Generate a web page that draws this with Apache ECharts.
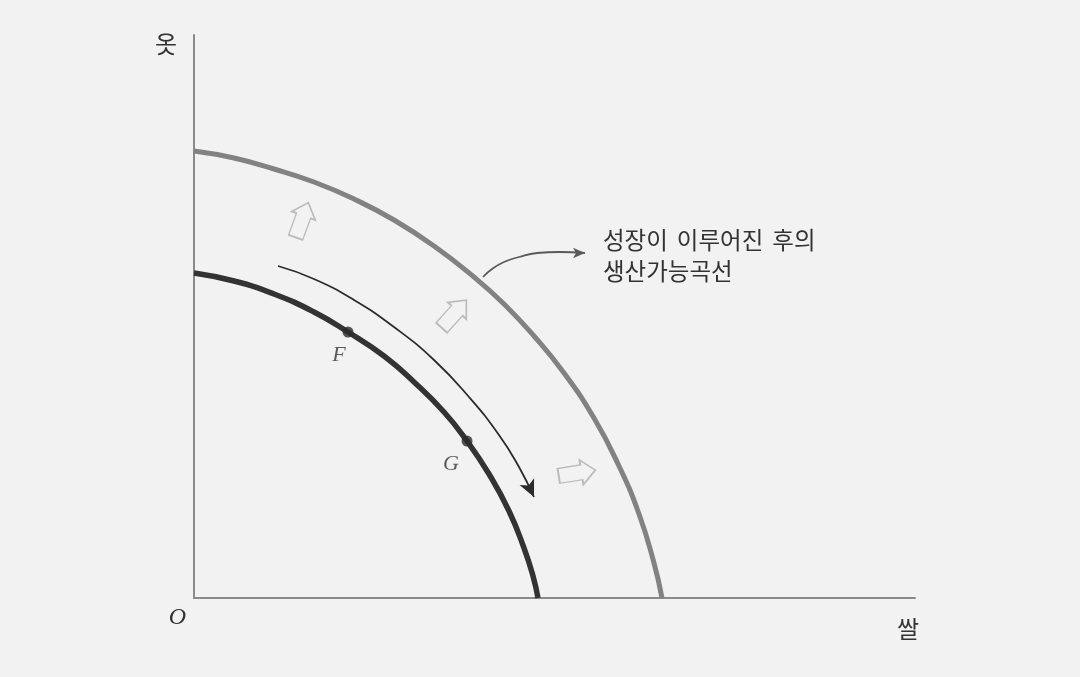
<!DOCTYPE html>
<html>
<head>
<meta charset="utf-8">
<script src="https://cdn.jsdelivr.net/npm/echarts@6/dist/echarts.min.js"></script>
<style>
html,body{margin:0;padding:0;background:#f2f2f2;}
#chart{width:1080px;height:677px;}
</style>
</head>
<body>
<div id="chart"></div>
<script>
// Values (units: abstract quantities of 쌀 (x) and 옷 (y))
const outerX = [0, 40, 80, 120, 160, 200, 240, 280, 310, 340, 370, 400, 425, 445, 460, 468];
const outerY = [447, 440, 429, 416, 399, 378, 352, 321, 294, 262, 225, 180, 132, 84, 35, 0];
const innerX = [0, 40, 80, 120, 154, 190, 220, 250, 273, 295, 315, 330, 339, 344];
const innerY = [325, 317, 304, 286, 266, 242, 216, 186, 157, 124, 87, 50, 22, 0];
const moveX = [84, 120, 160, 200, 240, 275, 305, 325, 340];
const moveY = [332, 319, 298, 271, 238, 201, 163, 131, 101];
const noteX = [289, 298, 310, 325, 343, 365, 391];
const noteY = [321, 329, 336, 341, 345, 346, 345];
const pointNames = ['F', 'G'];
const pointX = [154, 273];
const pointY = [266, 157];
const shiftX = [108, 260, 383];
const shiftY = [378, 284, 125];
const shiftAngle = [-20, -42, -81];
const xName = '쌀';
const yName = '옷';
const originName = 'O';
const noteWords1 = ['성장이', '이루어진', '후의'];
const noteLine2 = '생산가능곡선';

const pairs = (xs, ys) => xs.map((x, i) => [x, ys[i]]);

const chart = echarts.init(document.getElementById('chart'));
const moveData = pairs(moveX, moveY).map((p, i, a) =>
  i === a.length - 1 ? {value: p, symbol: 'arrow', symbolSize: [12, 17], symbolRotate: -155} : {value: p, symbol: 'none'});
const noteData = pairs(noteX, noteY).map((p, i, a) =>
  i === a.length - 1 ? {value: p, symbol: 'arrow', symbolSize: [8, 12], symbolRotate: -90} : {value: p, symbol: 'none'});

const hollowArrow = 'path://M12.5,0 L25,14 L20,14 L20,37 L5,37 L5,14 L0,14 Z';
const labelPos = [[-3.5, 29], [-10.5, 28.5]];
const noteFont = '23.5px "Noto Sans CJK KR"';

chart.setOption({
  animation: false,
  backgroundColor: '#f2f2f2',
  grid: {left: 194, top: 35, right: 165, bottom: 79},
  xAxis: {
    type: 'value', min: 0, max: 721,
    axisLine: {show: true, lineStyle: {color: '#8a8a8a', width: 2}},
    axisTick: {show: false}, axisLabel: {show: false}, splitLine: {show: false}
  },
  yAxis: {
    type: 'value', min: 0, max: 563,
    axisLine: {show: true, lineStyle: {color: '#8a8a8a', width: 2}},
    axisTick: {show: false}, axisLabel: {show: false}, splitLine: {show: false}
  },
  series: [
    {
      type: 'line', data: pairs(outerX, outerY), smooth: 0.5, symbol: 'none',
      lineStyle: {color: '#828282', width: 5}, z: 3
    },
    {
      type: 'line', data: pairs(innerX, innerY), smooth: 0.5, symbol: 'none',
      lineStyle: {color: '#333333', width: 5.5}, z: 3
    },
    {
      type: 'line', data: moveData, smooth: 0.5, showSymbol: true,
      lineStyle: {color: '#2b2b2b', width: 1.8}, itemStyle: {color: '#2b2b2b'}, z: 4
    },
    {
      type: 'line', data: noteData, smooth: 0.5, showSymbol: true,
      lineStyle: {color: '#5a5a5a', width: 1.8}, itemStyle: {color: '#5a5a5a'}, z: 4
    },
    {
      type: 'scatter',
      data: pairs(pointX, pointY).map((p, i) => ({
        value: p, name: pointNames[i], label: {position: labelPos[i]}
      })),
      symbol: 'circle', symbolSize: 11, itemStyle: {color: '#2a2a2a'}, z: 5,
      label: {
        show: true, formatter: '{b}', align: 'center', verticalAlign: 'middle',
        fontFamily: 'Liberation Serif', fontStyle: 'italic', fontSize: 22, color: '#333'
      }
    },
    {
      type: 'scatter',
      data: pairs(shiftX, shiftY).map((p, i) => ({value: p, symbolRotate: shiftAngle[i]})),
      symbol: hollowArrow, symbolSize: [25, 37],
      itemStyle: {color: 'rgba(0,0,0,0)', borderColor: '#adadad', borderWidth: 1.6}, z: 2
    }
  ],
  graphic: [
    {type: 'text', style: {text: yName, x: 166, y: 44, align: 'center', verticalAlign: 'middle',
      font: '24px "Noto Sans CJK KR"', fill: '#333'}},
    {type: 'text', style: {text: xName, x: 908, y: 629, align: 'center', verticalAlign: 'middle',
      font: '24px "Noto Sans CJK KR"', fill: '#333'}},
    {type: 'text', style: {text: originName, x: 177.5, y: 618, align: 'center', verticalAlign: 'middle',
      font: 'italic 24px "Liberation Serif"', fill: '#333'}},
    {type: 'text', style: {
      x: 603, y: 240, verticalAlign: 'middle',
      text: '{w|' + noteWords1[0] + '}{g| }{w|' + noteWords1[1] + '}{g| }{w|' + noteWords1[2] + '}',
      rich: {
        w: {font: noteFont, fill: '#333'},
        g: {font: noteFont, width: 9}
      }
    }},
    {type: 'text', style: {text: noteLine2, x: 603, y: 271, verticalAlign: 'middle',
      font: noteFont, fill: '#333'}}
  ]
});
</script>
</body>
</html>
